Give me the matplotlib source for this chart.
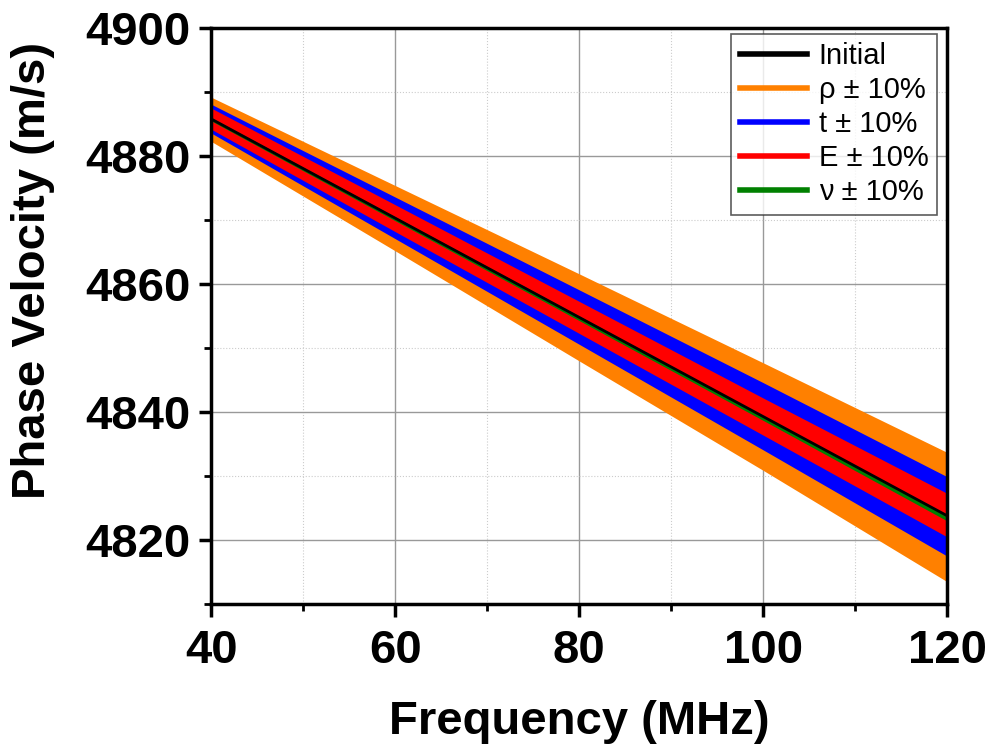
import numpy as np
import matplotlib.pyplot as plt
from matplotlib.ticker import MultipleLocator

plt.rcParams['font.family'] = ['Liberation Sans', 'DejaVu Sans']

# Data (MHz, m/s)
freq = [40, 60, 80, 100, 120]
initial = [4885.8, 4870.3, 4854.8, 4839.3, 4823.8]
rho_hi = [4889.2, 4875.4, 4861.6, 4847.7, 4833.7]
rho_lo = [4882.3, 4865.2, 4848.0, 4830.9, 4813.5]
t_hi = [4888.1, 4873.6, 4859.1, 4844.6, 4829.9]
t_lo = [4883.6, 4867.1, 4850.6, 4834.1, 4817.5]
E_hi = [4887.5, 4872.4, 4857.3, 4842.2, 4827.3]
E_lo = [4884.2, 4868.2, 4852.3, 4836.4, 4820.5]
nu_hi = [4886.0, 4870.5, 4855.0, 4839.4, 4823.8]
nu_lo = [4885.5, 4869.9, 4854.3, 4838.7, 4823.0]

fig = plt.figure(figsize=(9.91, 7.46), dpi=100)
ax = fig.add_axes([0.213, 0.19, 0.743, 0.7725])

ax.fill_between(freq, rho_lo, rho_hi, color="#FF8000", lw=0)
ax.fill_between(freq, t_lo, t_hi, color="#0000FF", lw=0)
ax.fill_between(freq, E_lo, E_hi, color="#FF0000", lw=0)
ax.fill_between(freq, nu_lo, nu_hi, color="#008000", lw=0)
ax.plot(freq, initial, c="k", lw=2)

# legend proxies
for c, lab in [("k", "Initial"), ("#FF8000", "\u03c1 \u00b1 10%"),
               ("#0000FF", "t \u00b1 10%"), ("#FF0000", "E \u00b1 10%"),
               ("#008000", "\u03bd \u00b1 10%")]:
    ax.plot([], [], c=c, lw=4, label=lab)
leg = ax.legend(loc="upper right", fontsize=21, frameon=True, fancybox=False,
                edgecolor="#333333", handlelength=2.3, borderpad=0.3,
                labelspacing=0.2, handletextpad=0.4, borderaxespad=0,
                bbox_to_anchor=(0.986, 0.99))
leg.get_frame().set_linewidth(1.2)

ax.set_xlim(40, 120)
ax.set_ylim(4810, 4900)
ax.xaxis.set_major_locator(MultipleLocator(20))
ax.xaxis.set_minor_locator(MultipleLocator(10))
ax.yaxis.set_major_locator(MultipleLocator(20))
ax.yaxis.set_minor_locator(MultipleLocator(10))

ax.grid(which="major", color="#999999", lw=1, ls="-")
ax.grid(which="minor", color="#cccccc", lw=0.8, ls=":")
ax.set_axisbelow(True)

for s in ax.spines.values():
    s.set_linewidth(2.5)
ax.tick_params(which="major", direction="out", length=9, width=2.5,
               labelsize=34, pad=6)
ax.tick_params(axis="x", which="major", pad=9)
ax.tick_params(which="minor", direction="out", length=5, width=2)
for t in ax.get_xticklabels() + ax.get_yticklabels():
    t.set_fontweight("bold")

ax.set_xlabel("Frequency (MHz)", fontsize=34, fontweight="bold", labelpad=19)
ax.set_ylabel("Phase Velocity (m/s)", fontsize=34, fontweight="bold")
ax.yaxis.set_label_coords(-0.212, 0.58)

fig.savefig("out.png", dpi=100)
